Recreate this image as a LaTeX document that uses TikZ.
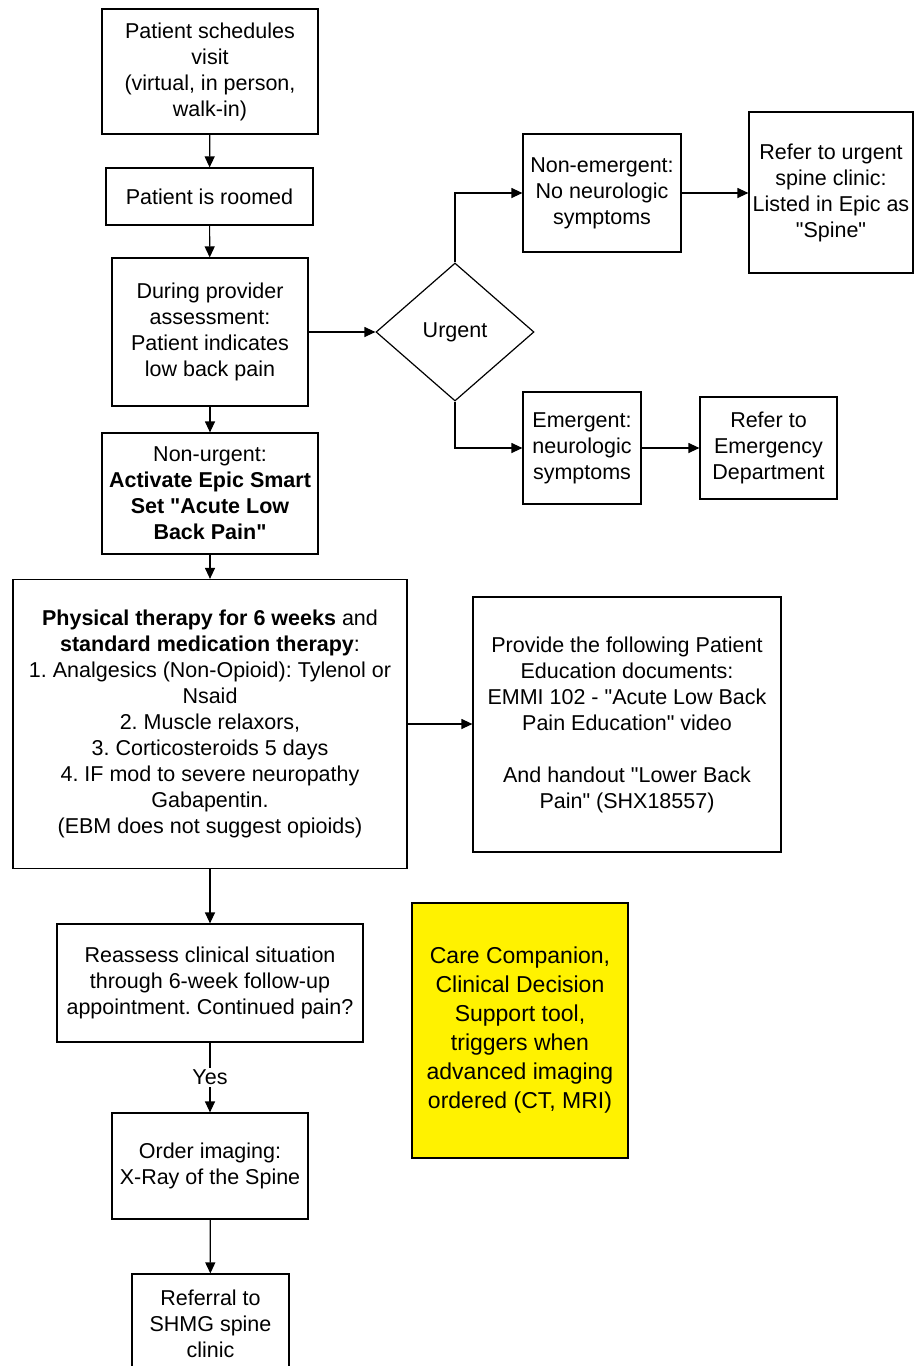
\documentclass[tikz,border=0pt]{standalone}
\usepackage{fontspec}
\setmainfont{Liberation Sans}[Ligatures=TeXOff]
\usetikzlibrary{arrows.meta,shapes.geometric}
\frenchspacing

\tikzset{
  stepbox/.style={draw, rectangle, line width=1.2pt, align=center, inner sep=0pt,
    font={\fontsize{21.5}{26}\selectfont}},
  flow/.style={line width=1.2pt, -{Triangle[length=11pt,width=10pt]}},
}

\begin{document}
\begin{tikzpicture}[x=1pt, y=-1pt]
			%%%%% START %%%%%
			\useasboundingbox (0, 0) rectangle (915, 1366);
			
			\node[stepbox, minimum width=216pt, minimum height=125pt] (sched) at (210, 71.5)
			  {Patient schedules\\visit\\(virtual, in person,\\walk-in)};
			\node[stepbox, minimum width=207pt, minimum height=57pt] (roomed) at (209.5, 196.5)
			  {Patient is roomed};
			\node[stepbox, minimum width=196pt, minimum height=148pt] (assess) at (210, 332)
			  {During provider\\assessment:\\Patient indicates\\low back pain};
			\node[stepbox, shape=diamond, minimum width=158pt, minimum height=138pt] (urgent) at (455, 332)
			  {Urgent};
			
			\node[stepbox, minimum width=158pt, minimum height=118pt] (nonemerg) at (602, 193)
			  {Non-emergent:\\No neurologic\\symptoms};
			\node[stepbox, minimum width=164pt, minimum height=161pt] (spine) at (831, 192.5)
			  {Refer to urgent\\spine clinic:\\Listed in Epic as\\"Spine"};
			\node[stepbox, minimum width=118pt, minimum height=112pt] (emerg) at (582, 448)
			  {Emergent:\\neurologic\\symptoms};
			\node[stepbox, minimum width=137pt, minimum height=102pt] (edept) at (768.5, 448)
			  {Refer to\\Emergency\\Department};
			
			\node[stepbox, minimum width=216pt, minimum height=121pt] (nonurgent) at (210, 493.5)
			  {Non-urgent:\\\textbf{Activate Epic Smart}\\\textbf{Set "Acute Low}\\\textbf{Back Pain"}};
			\node[stepbox, minimum width=394pt, minimum height=289pt] (therapy) at (210, 724)
			  {\textbf{Physical therapy for 6 weeks} and\\\textbf{standard medication therapy}:\\
			   1. Analgesics (Non-Opioid): Tylenol or\\Nsaid\\2. Muscle relaxors,\\
			   3. Corticosteroids 5 days\\4. IF mod to severe neuropathy\\Gabapentin.\\
			   (EBM does not suggest opioids)};
			\node[stepbox, minimum width=308pt, minimum height=255pt] (educ) at (627, 724.5)
			  {Provide the following Patient\\Education documents:\\EMMI 102 - "Acute Low Back\\
			   Pain Education" video\\[26pt]And handout "Lower Back\\Pain" (SHX18557)};
			
			\node[stepbox, minimum width=306pt, minimum height=118pt] (reassess) at (210, 983)
			  {Reassess clinical situation\\through 6-week follow-up\\appointment. Continued pain?};
			\node[stepbox, minimum width=196pt, minimum height=106pt] (imaging) at (210, 1166)
			  {Order imaging:\\X-Ray of the Spine};
			\node[stepbox, minimum width=157pt, minimum height=100pt] (referral) at (210.5, 1324)
			  {Referral to\\SHMG spine\\clinic};
			
			\node[stepbox, fill=yellow, minimum width=216pt, minimum height=255pt,
			  font={\fontsize{23}{29}\selectfont}] (care) at (520, 1030.5)
			  {Care Companion,\\Clinical Decision\\Support tool,\\triggers when\\advanced imaging\\ordered (CT, MRI)};
			
			\draw[flow] (sched) -- (roomed);
			\draw[flow] (roomed) -- (assess);
			\draw[flow] (assess) -- (urgent);
			\draw[flow] (urgent.north) |- (nonemerg.west);
			\draw[flow] (nonemerg.east) -- (nonemerg.east -| spine.west);
			\draw[flow] (urgent.south) |- (emerg.west);
			\draw[flow] (emerg) -- (edept);
			\draw[flow] (assess) -- (nonurgent);
			\draw[flow] (nonurgent) -- (therapy);
			\draw[flow] (therapy.east) -- (therapy.east -| educ.west);
			\draw[flow] (therapy) -- (reassess);
			\draw[flow] (reassess) -- node[fill=white, inner sep=2pt, font={\fontsize{21.5}{26}\selectfont}] (yes) {Yes} (imaging);
			\draw[flow] (imaging) -- (referral);
			
			%%%%% END %%%%%
\end{tikzpicture}
\end{document}
